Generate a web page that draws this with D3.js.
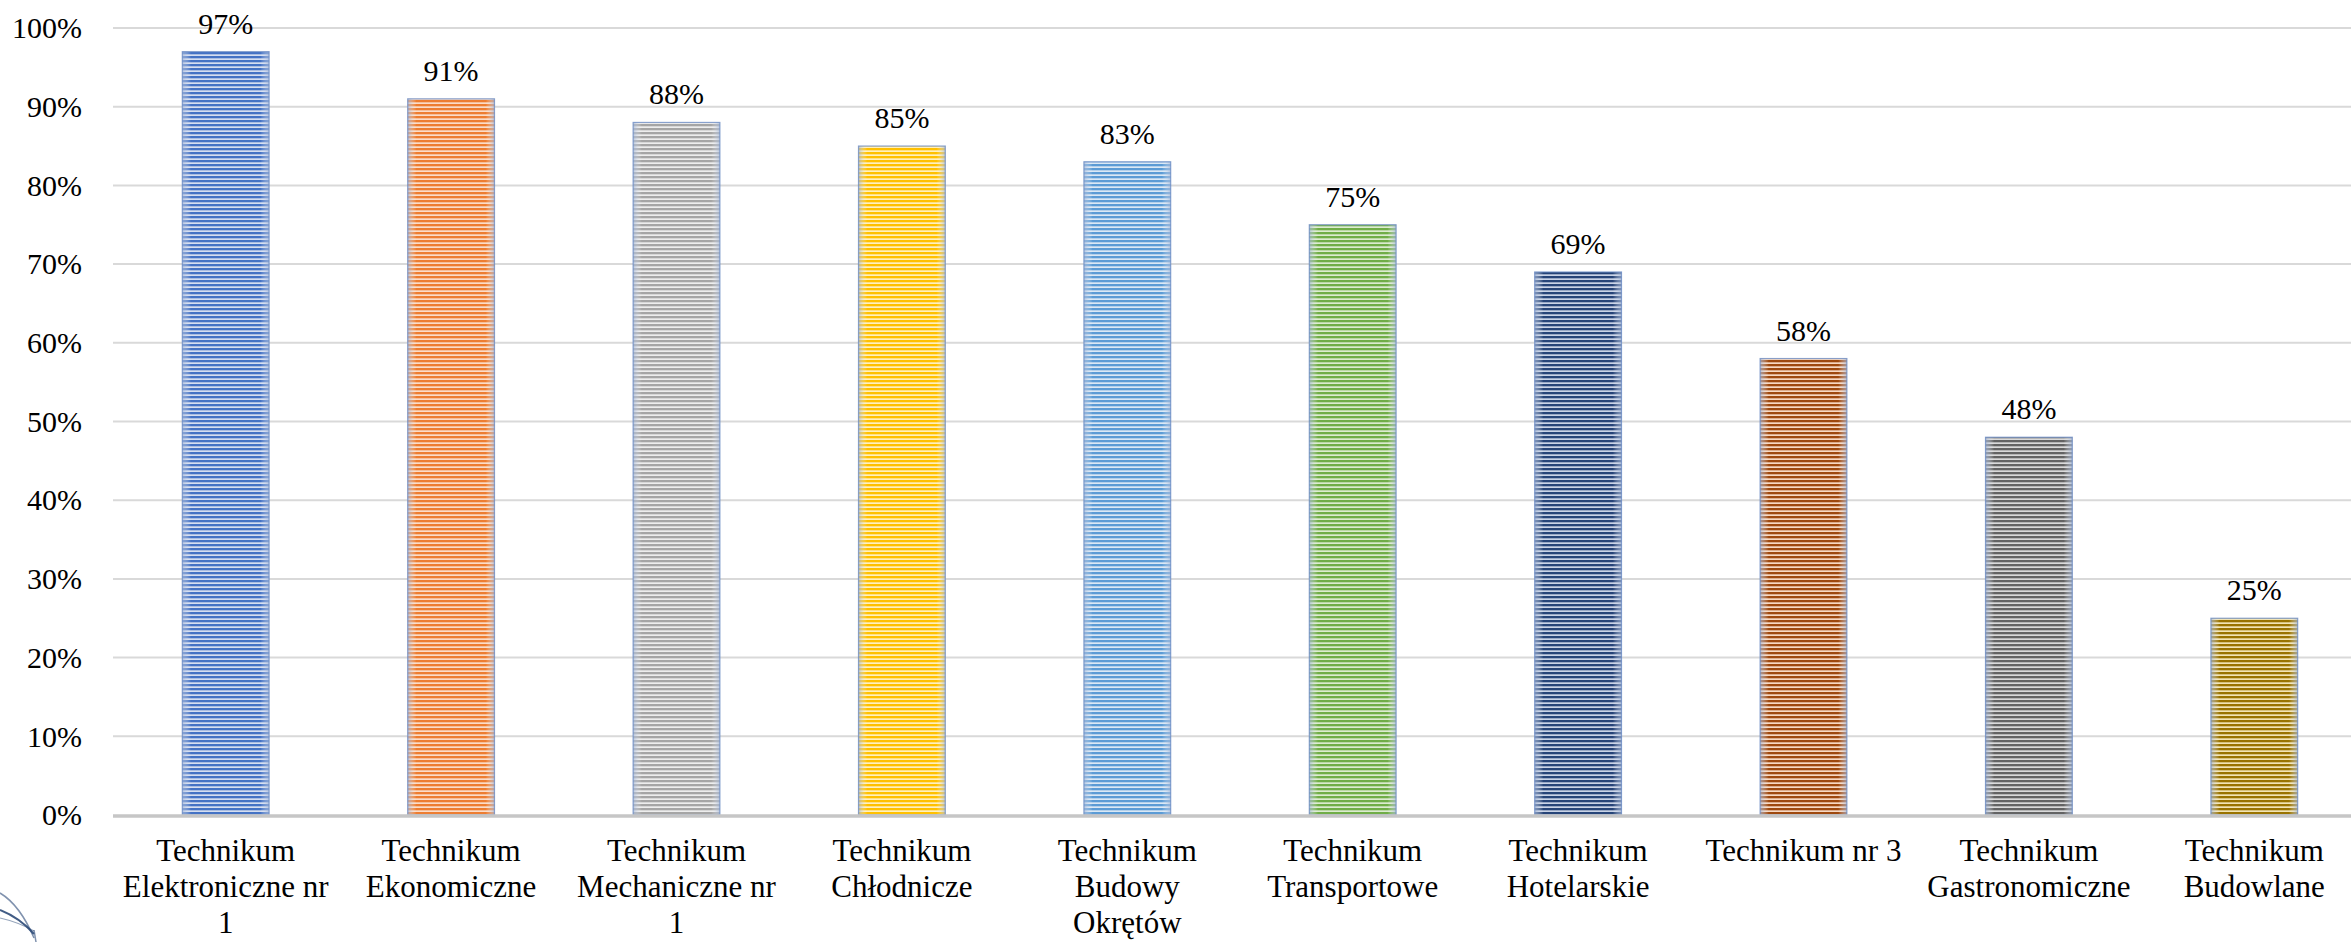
<!DOCTYPE html>
<html><head><meta charset="utf-8">
<script src="https://cdn.jsdelivr.net/npm/d3@7"></script>
<style>html,body{margin:0;padding:0;background:#fff;overflow:hidden}svg{display:block}
text{font-family:"Liberation Serif","Times New Roman","DejaVu Serif",serif;}</style>
</head><body>
<svg id="chart" width="2351" height="942"></svg>
<script>
const categories = [
  ["Technikum","Elektroniczne nr","1"],
  ["Technikum","Ekonomiczne"],
  ["Technikum","Mechaniczne nr","1"],
  ["Technikum","Chłodnicze"],
  ["Technikum","Budowy","Okrętów"],
  ["Technikum","Transportowe"],
  ["Technikum","Hotelarskie"],
  ["Technikum nr 3"],
  ["Technikum","Gastronomiczne"],
  ["Technikum","Budowlane"]
];
const values = [0.97, 0.91, 0.88, 0.85, 0.83, 0.75, 0.69, 0.58, 0.48, 0.25];
const darkColors = ["#4472C4","#ED7D31","#A5A5A5","#FFC000","#5B9BD5","#70AD47","#264478","#9E480E","#636363","#997300"];
const lightColors = ["#d5def0","#fbdcc8","#ededed","#fff0bf","#dae8f5","#dcebd0","#c9d3e6","#f7d8c2","#d9d9d9","#f2e4b5"];
const yTicks = [0,0.1,0.2,0.3,0.4,0.5,0.6,0.7,0.8,0.9,1.0];

const svg = d3.select("#chart");
const x = d3.scaleBand().domain(d3.range(categories.length)).range([113, 2367]).paddingInner(0.615).paddingOuter(0.3075);
const y = d3.scaleLinear().domain([0,1]).range([815, 28]);

const defs = svg.append("defs");
darkColors.forEach((c,i)=>{
  const p = defs.append("pattern").attr("id","pat"+i).attr("patternUnits","userSpaceOnUse")
    .attr("width",8).attr("height",4);
  p.append("rect").attr("width",8).attr("height",4).attr("fill",lightColors[i]);
  p.append("rect").attr("width",8).attr("height",2.3).attr("fill",c);
});
const g = defs.append("linearGradient").attr("id","edge").attr("x1","0").attr("x2","1").attr("y1","0").attr("y2","0");
g.append("stop").attr("offset","0").attr("stop-color","#9fb3d6").attr("stop-opacity",0.7);
g.append("stop").attr("offset","0.1").attr("stop-color","#ffffff").attr("stop-opacity",0);
g.append("stop").attr("offset","0.9").attr("stop-color","#ffffff").attr("stop-opacity",0);
g.append("stop").attr("offset","1").attr("stop-color","#9fb3d6").attr("stop-opacity",0.7);

// gridlines
svg.append("g").selectAll("line").data(yTicks.filter(d=>d>0)).join("line")
  .attr("x1",113).attr("x2",2351).attr("y1",d=>y(d)).attr("y2",d=>y(d))
  .attr("stroke","#d9d9d9").attr("stroke-width",2);

// y tick labels
svg.append("g").selectAll("text").data(yTicks).join("text")
  .attr("x",82).attr("y",d=>y(d)).attr("dy","0.34em").attr("text-anchor","end")
  .attr("font-size",30).attr("fill","#000")
  .text(d=>d3.format(".0%")(d));

// bars
const bars = svg.append("g");
values.forEach((v,i)=>{
  bars.append("rect").attr("x",x(i)).attr("y",y(v)).attr("width",x.bandwidth()).attr("height",y(0)-y(v))
    .attr("fill","url(#pat"+i+")");
  bars.append("rect").attr("x",x(i)).attr("y",y(v)).attr("width",x.bandwidth()).attr("height",y(0)-y(v))
    .attr("fill","url(#edge)").attr("stroke","#6f8fc6").attr("stroke-width",1.2).attr("stroke-opacity",0.8);
});

// axis line
svg.append("line").attr("x1",113).attr("x2",2351).attr("y1",y(0)+1).attr("y2",y(0)+1)
  .attr("stroke","#c6c6c6").attr("stroke-width",3.5);

// data labels
svg.append("g").selectAll("text").data(values).join("text")
  .attr("x",(d,i)=>x(i)+x.bandwidth()/2).attr("y",d=>y(d)-18).attr("text-anchor","middle")
  .attr("font-size",30).attr("fill","#000")
  .text(d=>d3.format(".0%")(d));

// category labels
const cl = svg.append("g");
categories.forEach((lines,i)=>{
  const t = cl.append("text").attr("text-anchor","middle").attr("font-size",31).attr("fill","#000");
  lines.forEach((ln,j)=>{
    t.append("tspan").attr("x",x(i)+x.bandwidth()/2).attr("y",861+j*36).text(ln);
  });
});

// partial logo fragment bottom-left
const logo = svg.append("g").attr("fill","none").attr("stroke","#2c4a78");
logo.append("path").attr("d","M0,893 Q20,905 34,938").attr("stroke-width",1.5).attr("stroke-opacity",0.6);
logo.append("path").attr("d","M0,910 Q20,918 34,934 ").attr("stroke-width",2).attr("stroke-opacity",0.9);
logo.append("path").attr("d","M0,918 Q18,922 34,931").attr("stroke-width",1.2).attr("stroke-opacity",0.5);
logo.append("path").attr("d","M34,930 L36,942").attr("stroke-width",1.5).attr("stroke-opacity",0.6);
</script>
</body></html>
